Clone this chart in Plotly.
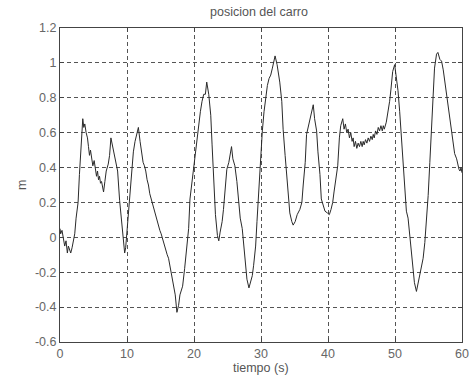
import plotly.graph_objects as go

# tiempo (s)
tiempo = [0.0, 0.1, 0.3, 0.45, 0.7, 0.9, 1.1, 1.25, 1.4, 1.6, 1.8, 1.95, 2.2, 2.4, 2.7, 2.9, 3.2, 3.4,
          3.55, 3.7, 3.9, 4.1, 4.25, 4.4, 4.55, 4.7, 4.9, 5.1, 5.3, 5.45, 5.6, 5.75, 5.9, 6.05, 6.2, 6.35,
          6.5, 6.7, 6.9, 7.2, 7.4, 7.6, 7.7, 7.9, 8.1, 8.3, 8.6, 8.9, 9.2, 9.4, 9.65, 9.8, 9.95,
          10.2, 10.45, 10.7, 10.95, 11.2, 11.45, 11.7, 11.95, 12.1, 12.2, 12.4, 12.6, 12.8, 13.0, 13.2,
          13.4, 13.6, 13.75, 13.9, 14.1, 14.3, 14.5, 14.7, 14.9, 15.1, 15.25, 15.4, 15.6, 15.8, 16.0,
          16.2, 16.4, 16.6, 16.9, 17.2, 17.45, 17.7, 17.9, 18.3, 18.6, 18.9, 19.2, 19.4, 19.7, 19.95,
          20.2, 20.45, 20.7, 20.95, 21.2, 21.45, 21.7, 21.9, 22.2, 22.5, 22.7, 23.0, 23.2, 23.5, 23.7,
          23.9, 24.2, 24.4, 24.7, 24.9, 25.2, 25.4, 25.6, 25.8, 26.1, 26.4, 26.7, 26.9, 27.2, 27.4,
          27.7, 27.9, 28.2, 28.4, 28.7, 28.9, 29.2, 29.4, 29.65, 29.95, 30.2, 30.45, 30.7, 30.95,
          31.2, 31.45, 31.7, 31.9, 32.1, 32.4, 32.8, 33.1, 33.3, 33.6, 33.8, 34.1, 34.3, 34.6, 34.8,
          35.1, 35.4, 35.8, 36.1, 36.3, 36.6, 36.8, 37.1, 37.3, 37.6, 37.8, 38.0, 38.3, 38.5, 38.8,
          39.0, 39.25, 39.55, 39.9, 40.2, 40.45, 40.7, 40.9, 41.2, 41.45, 41.7, 41.9, 42.2, 42.4,
          42.6, 42.8, 43.0, 43.2, 43.4, 43.6, 43.75, 43.9, 44.1, 44.3, 44.5, 44.7, 44.9, 45.1, 45.25,
          45.4, 45.6, 45.8, 46.0, 46.2, 46.4, 46.6, 46.75, 46.9, 47.1, 47.3, 47.5, 47.7, 47.9, 48.1,
          48.25, 48.4, 48.7, 48.9, 49.2, 49.4, 49.65, 49.95, 50.2, 50.45, 50.7, 50.95, 51.2, 51.45,
          51.7, 51.95, 52.2, 52.45, 52.7, 52.9, 53.2, 53.45, 53.7, 53.9, 54.2, 54.45, 54.7, 54.95,
          55.2, 55.45, 55.7, 55.9, 56.2, 56.4, 56.7, 56.95, 57.2, 57.45, 57.7, 57.9, 58.2, 58.4,
          58.7, 58.9, 59.2, 59.4, 59.55, 59.7, 59.85, 60.0]

# posicion (m)
posicion = [0.05, 0.02, 0.04, 0.0, -0.05, -0.02, -0.09, -0.05, -0.075, -0.09, -0.06, -0.03, 0.02, 0.11, 0.2, 0.36, 0.57, 0.68,
            0.63, 0.65, 0.6, 0.57, 0.52, 0.47, 0.5, 0.45, 0.41, 0.44, 0.39, 0.35, 0.38, 0.33, 0.35, 0.31, 0.32, 0.28,
            0.26, 0.32, 0.38, 0.42, 0.47, 0.57, 0.55, 0.51, 0.47, 0.44, 0.38, 0.21, 0.09, -0.03, -0.09, -0.06, 0.01,
            0.11, 0.24, 0.38, 0.49, 0.55, 0.60, 0.63, 0.55, 0.5, 0.47, 0.43, 0.41, 0.38, 0.33, 0.30,
            0.25, 0.22, 0.2, 0.18, 0.15, 0.13, 0.09, 0.07, 0.04, 0.02, 0.0, -0.03, -0.05, -0.08, -0.1,
            -0.12, -0.16, -0.2, -0.26, -0.33, -0.43, -0.39, -0.33, -0.28, -0.18, -0.08, 0.05, 0.22, 0.32, 0.39,
            0.47, 0.57, 0.64, 0.72, 0.78, 0.82, 0.82, 0.89, 0.82, 0.70, 0.53, 0.32, 0.13, 0.01, -0.02,
            0.03, 0.09, 0.16, 0.30, 0.39, 0.43, 0.47, 0.52, 0.45, 0.41, 0.32, 0.20, 0.11, 0.05, -0.03,
            -0.14, -0.24, -0.29, -0.26, -0.22, -0.16, -0.05, 0.09, 0.26, 0.47, 0.61, 0.72, 0.80, 0.87,
            0.91, 0.93, 0.97, 1.01, 1.04, 0.99, 0.89, 0.78, 0.62, 0.47, 0.36, 0.22, 0.14, 0.09, 0.07,
            0.09, 0.13, 0.16, 0.20, 0.30, 0.43, 0.59, 0.64, 0.68, 0.72, 0.76, 0.68, 0.61, 0.49, 0.36,
            0.22, 0.18, 0.15, 0.14, 0.13, 0.16, 0.20, 0.26, 0.34, 0.41, 0.57, 0.64, 0.68, 0.62,
            0.65, 0.60, 0.62, 0.57, 0.6, 0.55, 0.57, 0.52, 0.55, 0.51, 0.54, 0.52, 0.55, 0.52, 0.55,
            0.53, 0.56, 0.54, 0.57, 0.55, 0.58, 0.56, 0.59, 0.57, 0.61, 0.59, 0.63, 0.61, 0.64, 0.61,
            0.64, 0.62, 0.66, 0.70, 0.78, 0.85, 0.95, 0.99, 0.91, 0.84, 0.72, 0.59, 0.43, 0.30,
            0.15, 0.11, 0.01, -0.10, -0.18, -0.26, -0.31, -0.26, -0.22, -0.18, -0.12, -0.03, 0.09, 0.24,
            0.43, 0.62, 0.82, 0.97, 1.05, 1.06, 1.02, 1.01, 0.96, 0.89, 0.84, 0.76, 0.68, 0.62,
            0.55, 0.48, 0.45, 0.41, 0.39, 0.38, 0.40, 0.37]

x_ticks = [0, 10, 20, 30, 40, 50, 60]
y_ticks = [-0.6, -0.4, -0.2, 0, 0.2, 0.4, 0.6, 0.8, 1, 1.2]
y_tick_labels = ["-0.6", "-0.4", "-0.2", "0", "0.2", "0.4", "0.6", "0.8", "1", "1.2"]

FONT = "Liberation Sans, Arial, sans-serif"

fig = go.Figure()
fig.add_trace(go.Scatter(x=tiempo, y=posicion, mode="lines",
                         line=dict(color="#2a2a2a", width=1), showlegend=False))

axis_common = dict(
    showline=True, linecolor="#444444", linewidth=1, mirror="ticks",
    ticks="inside", ticklen=4, tickcolor="#444444",
    showgrid=True, gridcolor="#555555", gridwidth=1, griddash="4px,3px",
    zeroline=False, automargin=False,
    tickfont=dict(family=FONT, size=12.5, color="#666666"),
)

fig.update_xaxes(range=[0, 60], tickvals=x_ticks, **axis_common)
fig.update_yaxes(range=[-0.6, 1.2], tickvals=y_ticks, ticktext=y_tick_labels, **axis_common)

fig.update_layout(
    width=472, height=379,
    margin=dict(l=60, r=10, t=28, b=37, autoexpand=False),
    paper_bgcolor="white", plot_bgcolor="white",
    title=dict(text="posicion del carro", x=259 / 472, xanchor="center",
               xref="container", yref="container", y=1 - 12 / 379, yanchor="middle",
               font=dict(family=FONT, size=12.5, color="#555555")),
    annotations=[
        dict(text="tiempo (s)", xref="paper", yref="paper", x=0.5, y=-(368 - 342) / 314,
             xanchor="center", yanchor="middle", showarrow=False,
             font=dict(family=FONT, size=12.5, color="#555555")),
        dict(text="m", xref="paper", yref="paper", x=-(60 - 22) / 402, y=(342 - 185) / 314,
             xanchor="center", yanchor="middle", showarrow=False, textangle=-90,
             font=dict(family=FONT, size=12.5, color="#555555")),
    ],
)

fig.write_html(
    "out.html",
    config={"displayModeBar": False},
    post_script="document.body.style.margin='0';document.body.style.overflow='hidden';",
)
